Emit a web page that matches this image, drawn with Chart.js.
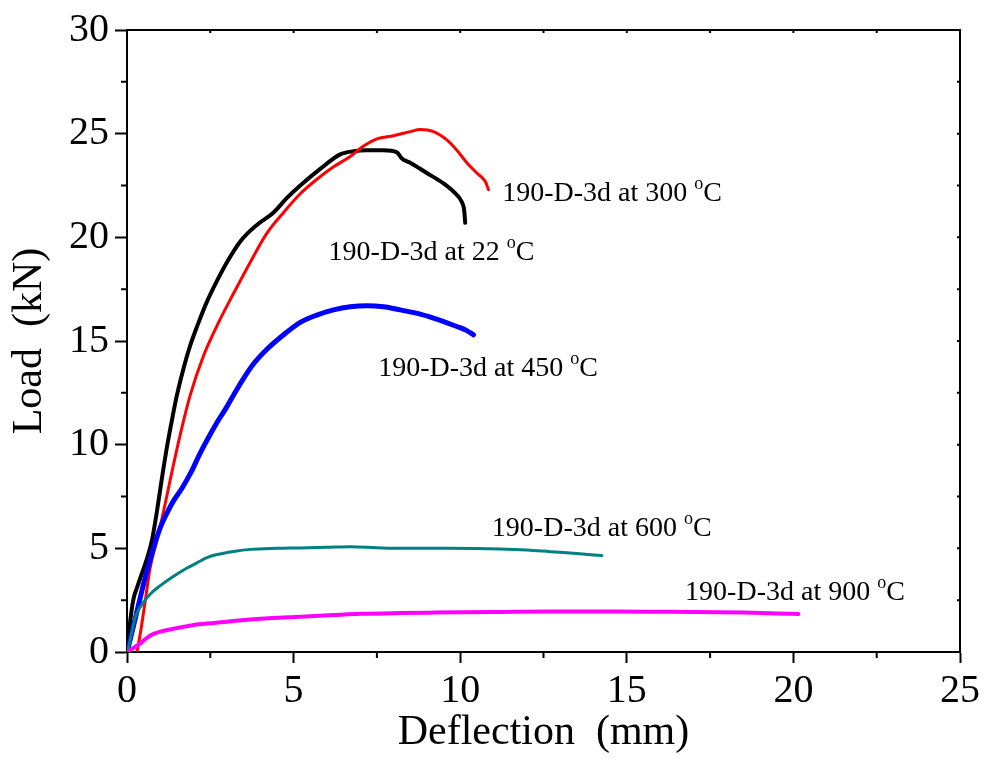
<!DOCTYPE html>
<html>
<head>
<meta charset="utf-8">
<script src="https://cdn.jsdelivr.net/npm/chart.js@4.4.0/dist/chart.umd.min.js"></script>
<style>
  html, body { margin: 0; padding: 0; background: #fff; }
  #wrap { width: 985px; height: 760px; }
</style>
</head>
<body>
<div id="wrap"><canvas id="chart" width="985" height="760"></canvas></div>
<script>
// Deflection (mm) / Load (kN)
const defl22 = [0, 0.05, 0.12, 0.2, 0.3, 0.45, 0.6, 0.75, 0.9, 1.05, 1.2, 1.35, 1.5, 1.7, 1.9, 2.15, 2.4, 2.7, 3.0, 3.4, 3.9, 4.4, 4.8, 5.2, 5.8, 6.4, 6.8, 7.2, 7.7, 8.1, 8.25, 8.5, 9.0, 9.5, 9.8, 10.05, 10.12, 10.15];
const load22 = [0, 0.8, 1.8, 2.6, 3.1, 3.8, 4.5, 5.4, 6.8, 8.4, 9.9, 11.2, 12.4, 13.7, 14.8, 15.9, 16.9, 17.9, 18.8, 19.8, 20.6, 21.2, 21.9, 22.5, 23.3, 24.0, 24.15, 24.2, 24.2, 24.1, 23.8, 23.6, 23.1, 22.6, 22.2, 21.7, 21.3, 20.7];

const defl300 = [0.3, 0.4, 0.55, 0.7, 0.9, 1.1, 1.35, 1.6, 1.9, 2.3, 2.75, 3.2, 3.7, 4.2, 4.7, 5.2, 5.7, 6.2, 6.7, 7.1, 7.5, 8.0, 8.5, 8.8, 9.2, 9.6, 9.9, 10.2, 10.5, 10.75, 10.85];
const load300 = [0, 0.9, 2.5, 4.1, 5.4, 6.8, 8.7, 10.5, 12.4, 14.3, 15.9, 17.3, 18.8, 20.2, 21.2, 22.1, 22.8, 23.4, 23.9, 24.4, 24.75, 24.9, 25.1, 25.2, 25.1, 24.7, 24.2, 23.6, 23.1, 22.7, 22.3];

const defl450 = [0, 0.05, 0.2, 0.35, 0.5, 0.7, 0.85, 1.0, 1.2, 1.4, 1.65, 1.9, 2.2, 2.5, 2.75, 2.95, 3.2, 3.5, 3.8, 4.2, 4.7, 5.2, 5.7, 6.2, 6.7, 7.2, 7.7, 8.2, 8.8, 9.4, 9.9, 10.2, 10.4];
const load450 = [0, 0.3, 1.3, 2.3, 3.3, 4.5, 5.3, 6.0, 6.7, 7.3, 7.9, 8.6, 9.6, 10.5, 11.2, 11.7, 12.4, 13.2, 13.9, 14.6, 15.3, 15.9, 16.25, 16.5, 16.65, 16.7, 16.65, 16.5, 16.3, 16.0, 15.7, 15.5, 15.3];

const defl600 = [0, 0.05, 0.15, 0.25, 0.32, 0.45, 0.7, 1.0, 1.4, 1.8, 2.1, 2.4, 2.7, 3.2, 3.7, 4.5, 5.2, 6.0, 6.7, 7.5, 8.2, 9.7, 11.2, 12.0, 12.7, 13.5, 14.25];
const load600 = [0, 0.25, 1.0, 1.7, 1.95, 2.3, 2.8, 3.2, 3.65, 4.05, 4.3, 4.55, 4.7, 4.85, 4.95, 5.0, 5.02, 5.05, 5.08, 5.03, 5.0, 5.0, 4.97, 4.92, 4.84, 4.75, 4.65];

const defl900 = [0, 0.2, 0.4, 0.55, 0.7, 1.0, 1.5, 2.0, 2.6, 3.2, 4.0, 5.2, 6.2, 7.0, 8.2, 9.2, 11.2, 12.7, 14.7, 16.0, 17.0, 18.5, 19.5, 20.15];
const load900 = [0, 0.2, 0.42, 0.62, 0.8, 0.98, 1.15, 1.3, 1.4, 1.5, 1.6, 1.7, 1.78, 1.84, 1.88, 1.9, 1.93, 1.95, 1.95, 1.94, 1.93, 1.9, 1.86, 1.83];

const seriesNames = ['190-D-3d at 22', '190-D-3d at 300', '190-D-3d at 450', '190-D-3d at 600', '190-D-3d at 900'];
const xTicks = [0, 5, 10, 15, 20, 25];
const yTicks = [0, 5, 10, 15, 20, 25, 30];

const FONT = '"Liberation Serif", "Times New Roman", serif';

function pts(xs, ys) {
  return xs.map((x, i) => ({ x: x, y: ys[i] }));
}

function line(label, xs, ys, color, width) {
  return {
    label: label,
    data: pts(xs, ys),
    borderColor: color,
    backgroundColor: color,
    borderWidth: width,
    pointRadius: 0,
    showLine: true,
    cubicInterpolationMode: 'monotone',
    borderCapStyle: 'round',
    borderJoinStyle: 'round'
  };
}

// where each curve's name sits (data coords of the text baseline start)
const labelSpots = [
  { x: 6.05, y: 18.9 },
  { x: 11.26, y: 21.75 },
  { x: 7.54, y: 13.3 },
  { x: 10.95, y: 5.6 },
  { x: 16.75, y: 2.5 }
];

// frame, minor ticks and curve labels
const extras = {
  id: 'extras',
  afterDraw(chart) {
    const { ctx, chartArea: a, scales: { x, y } } = chart;
    ctx.save();
    ctx.strokeStyle = '#000';
    ctx.lineWidth = 2;
    ctx.beginPath();
    ctx.moveTo(a.left, a.top);
    ctx.lineTo(a.right, a.top);
    ctx.lineTo(a.right, a.bottom);
    ctx.stroke();

    ctx.beginPath();
    for (let v = 2.5; v < 25; v += 5) {
      const px = x.getPixelForValue(v);
      ctx.moveTo(px, a.bottom); ctx.lineTo(px, a.bottom + 6);
    }
    for (let v = 2.5; v < 30; v += 5) {
      const py = y.getPixelForValue(v);
      ctx.moveTo(a.left, py); ctx.lineTo(a.left - 6, py);
    }
    // small inward ticks on top / right
    for (let v = 2.5; v < 25; v += 2.5) {
      const px = x.getPixelForValue(v);
      ctx.moveTo(px, a.top); ctx.lineTo(px, a.top + 3);
    }
    for (let v = 2.5; v < 30; v += 2.5) {
      const py = y.getPixelForValue(v);
      ctx.moveTo(a.right, py); ctx.lineTo(a.right - 3, py);
    }
    ctx.stroke();

    ctx.fillStyle = '#000';
    ctx.textBaseline = 'alphabetic';
    ctx.textAlign = 'left';
    seriesNames.forEach((name, i) => {
      const s = labelSpots[i];
      let px = x.getPixelForValue(s.x);
      const py = y.getPixelForValue(s.y);
      ctx.font = '28px ' + FONT;
      const head = name + ' ';
      ctx.fillText(head, px, py);
      px += ctx.measureText(head).width;
      ctx.font = '18px ' + FONT;
      ctx.fillText('o', px, py - 12);
      px += ctx.measureText('o').width;
      ctx.font = '28px ' + FONT;
      ctx.fillText('C', px, py);
    });
    ctx.restore();
  }
};

new Chart(document.getElementById('chart'), {
  type: 'scatter',
  data: {
    datasets: [
      line(seriesNames[4], defl900, load900, '#ff00ff', 4),
      line(seriesNames[3], defl600, load600, '#008080', 3),
      line(seriesNames[2], defl450, load450, '#0000ff', 5),
      line(seriesNames[1], defl300, load300, '#ff0000', 3),
      line(seriesNames[0], defl22, load22, '#000000', 4)
    ]
  },
  options: {
    responsive: false,
    animation: false,
    layout: { padding: { left: 0, top: 30, right: 25, bottom: 0 } },
    plugins: {
      legend: { display: false },
      tooltip: { enabled: false }
    },
    scales: {
      x: {
        type: 'linear',
        min: 0,
        max: 25,
        afterBuildTicks: s => { s.ticks = xTicks.map(v => ({ value: v })); },
        afterFit: s => { s.height = 108; },
        border: { display: true, color: '#000', width: 2 },
        grid: { drawOnChartArea: false, drawTicks: true, tickLength: 11, tickColor: '#000', tickWidth: 2 },
        ticks: { color: '#000', padding: 4, font: { family: FONT, size: 40 }, maxRotation: 0 },
        title: { display: true, text: 'Deflection  (mm)', color: '#000', font: { family: FONT, size: 42 }, padding: { top: 2, bottom: 2 } }
      },
      y: {
        type: 'linear',
        min: 0,
        max: 30,
        afterBuildTicks: s => { s.ticks = yTicks.map(v => ({ value: v })); },
        afterFit: s => { s.width = 127; },
        border: { display: true, color: '#000', width: 2 },
        grid: { drawOnChartArea: false, drawTicks: true, tickLength: 12, tickColor: '#000', tickWidth: 2 },
        ticks: { color: '#000', padding: 6, font: { family: FONT, size: 40 } },
        title: { display: true, text: 'Load  (kN)', color: '#000', font: { family: FONT, size: 42 }, padding: { top: 5, bottom: 5 } }
      }
    }
  },
  plugins: [extras]
});
</script>
</body>
</html>
